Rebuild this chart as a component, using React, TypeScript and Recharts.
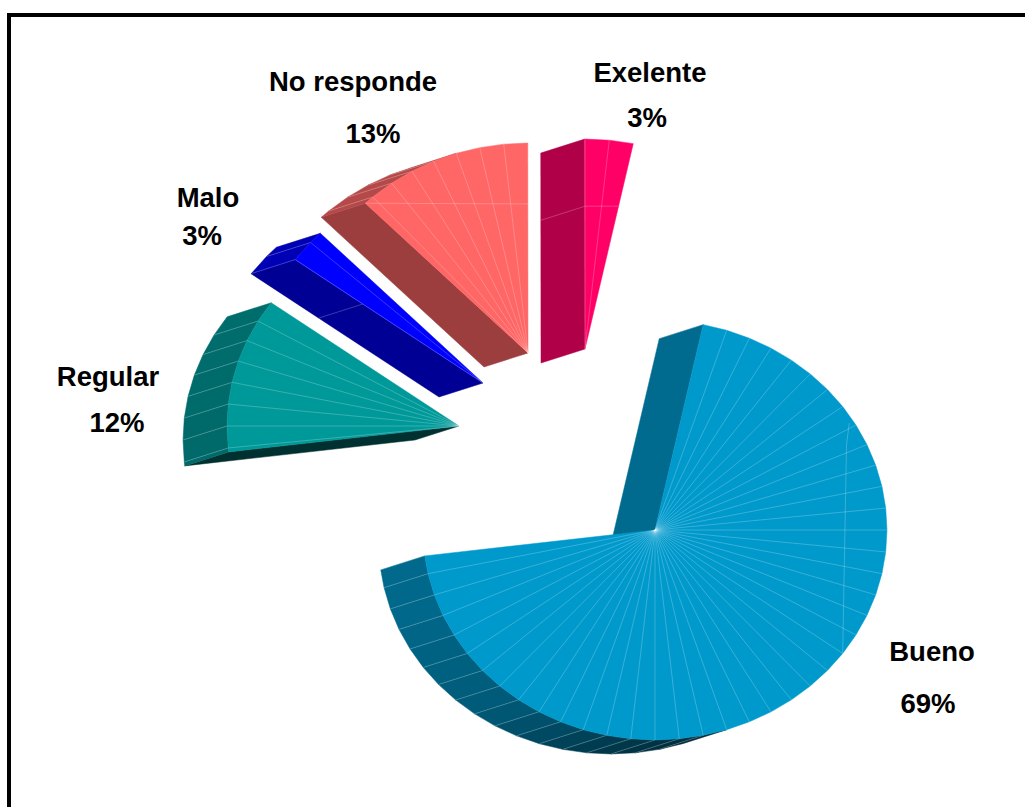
import { PieChart, Pie } from "recharts";

const categories = ["Bueno", "Regular", "Malo", "No responde", "Exelente"];
// share of the circle each slice takes in the drawing
const shares = [69.7, 11.95, 2.65, 12.35, 3.35];
const faceColors = ["#0099cc", "#009999", "#0000ff", "#ff6666", "#ff0066"];

// where each exploded slice has its point
const centers = [
  { x: 655, y: 530 },
  { x: 459, y: 426 },
  { x: 483, y: 383 },
  { x: 528, y: 353 },
  { x: 585, y: 349 },
];

const labels = [
  { text: "Bueno", x: 932, y: 661 },
  { text: "69%", x: 928, y: 713 },
  { text: "Regular", x: 108, y: 386 },
  { text: "12%", x: 117, y: 432 },
  { text: "Malo", x: 208, y: 207 },
  { text: "3%", x: 202, y: 245 },
  { text: "No responde", x: 353, y: 91 },
  { text: "13%", x: 373, y: 143 },
  { text: "Exelente", x: 650, y: 82 },
  { text: "3%", x: 647, y: 127 },
];

// stray mesh seams of the original 3d render, as [angle clockwise from top, part of radius]
const faceSeams: Record<string, number[][]> = {
  Bueno: [[58.7, 0.98], [63.8, 0.92], [126, 1]],
  "No responde": [[315.5, 1], [360, 0.71]],
  Exelente: [[360, 0.68], [371.8, 0.695]],
};
const wallSeams: Record<string, number[]> = {
  Malo: [306, 0.64],
  Exelente: [360, 0.68],
};

const TILT = 0.905;
const DEPTH = { x: -44, y: 14 };
const FACET = 6;
const LINE = "rgba(255,255,255,0.32)";

const rows = categories.map((name, i) => ({ name, value: shares[i], fill: faceColors[i] }));

// wall brightness by the direction the wall faces, clockwise from the top
function wallShade(dir: number) {
  const stops = [
    [150, 0.22],
    [170, 0.3],
    [190, 0.4],
    [215, 0.58],
    [250, 0.68],
    [300, 0.71],
  ];
  const d = ((dir % 360) + 360) % 360;
  if (d <= stops[0][0]) return stops[0][1];
  for (let i = 1; i < stops.length; i++) {
    if (d <= stops[i][0]) {
      const [a, va] = stops[i - 1];
      const [b, vb] = stops[i];
      return va + ((vb - va) * (d - a)) / (b - a);
    }
  }
  return 0.71;
}

function darken(hex: string, k: number) {
  const n = parseInt(hex.slice(1), 16);
  const c = [(n >> 16) & 255, (n >> 8) & 255, n & 255].map((v) => Math.round(v * k));
  return `rgb(${c[0]},${c[1]},${c[2]})`;
}

function poly(pts: number[][]) {
  return pts.map((p, i) => `${i ? "L" : "M"}${p[0].toFixed(2)} ${p[1].toFixed(2)}`).join(" ") + " Z";
}

function Slab(props: any) {
  const { cx, cy, outerRadius, startAngle, endAngle, fill, name } = props;
  // recharts angles run counter clockwise from +x, the facets are counted clockwise from the top
  const from = 90 - startAngle;
  const to = 90 - endAngle;
  const cuts = [from];
  for (let a = Math.ceil(from / FACET + 0.01) * FACET; a < to - 0.01; a += FACET) cuts.push(a);
  cuts.push(to);

  const at = (deg: number, part = 1) => {
    const r = (deg * Math.PI) / 180;
    return [cx + part * outerRadius * Math.sin(r), cy - part * outerRadius * TILT * Math.cos(r)];
  };
  const shift = (p: number[]) => [p[0] + DEPTH.x, p[1] + DEPTH.y];
  const rim = cuts.map((a) => at(a));
  const c = [cx, cy];

  const walls: any[] = [];
  const shown: string[] = [];
  // a and b go clockwise round the slice, only walls turned to the extrusion side show
  const wall = (a: number[], b: number[], dir: number, key: string) => {
    const nx = b[1] - a[1];
    const ny = a[0] - b[0];
    if (nx * DEPTH.x + ny * DEPTH.y <= 0) return;
    const color = darken(fill, wallShade(dir));
    walls.push(
      <path key={key} d={poly([a, b, shift(b), shift(a)])} fill={color} stroke={color} strokeWidth={0.5} />
    );
    shown.push(key);
  };
  wall(c, rim[0], from - 90, "first");
  wall(rim[rim.length - 1], c, to + 90, "last");
  for (let i = 0; i < rim.length - 1; i++) {
    wall(rim[i], rim[i + 1], (cuts[i] + cuts[i + 1]) / 2, `w${i}`);
  }

  const wallSeam = wallSeams[name] ? at(wallSeams[name][0], wallSeams[name][1]) : null;
  const faceSeam = faceSeams[name] ? faceSeams[name].map((s) => at(s[0], s[1])) : null;

  return (
    <g>
      {walls}
      {rim.slice(1, -1).map((p, i) =>
        shown.includes(`w${i}`) && shown.includes(`w${i + 1}`) ? (
          <line key={i} x1={p[0]} y1={p[1]} x2={p[0] + DEPTH.x} y2={p[1] + DEPTH.y} stroke={LINE} strokeWidth={0.7} />
        ) : null
      )}
      {wallSeam && (
        <line x1={wallSeam[0]} y1={wallSeam[1]} x2={wallSeam[0] + DEPTH.x} y2={wallSeam[1] + DEPTH.y} stroke={LINE} strokeWidth={0.7} />
      )}
      <path d={poly([c, ...rim])} fill={fill} stroke={fill} strokeWidth={0.5} />
      {rim.slice(1, -1).map((p, i) => (
        <line key={i} x1={cx} y1={cy} x2={p[0]} y2={p[1]} stroke={LINE} strokeWidth={0.7} />
      ))}
      {faceSeam && (
        <polyline points={faceSeam.map((p) => p.join(",")).join(" ")} fill="none" stroke={LINE} strokeWidth={0.7} />
      )}
    </g>
  );
}

export default function App() {
  return (
    <div style={{ position: "absolute", left: 0, top: 0, width: 1025, height: 807, overflow: "hidden", background: "#fff" }}>
      <div
        style={{
          position: "absolute",
          left: 7,
          top: 13,
          width: 1100,
          height: 900,
          border: "4px solid #000",
          boxSizing: "border-box",
        }}
      />
      <PieChart width={1025} height={807} margin={{ top: 0, right: 0, bottom: 0, left: 0 }}>
        {centers.map((center, i) => (
          <Pie
            key={categories[i]}
            data={rows}
            dataKey="value"
            nameKey="name"
            cx={center.x}
            cy={center.y}
            innerRadius={0}
            outerRadius={232}
            startAngle={78}
            endAngle={-282}
            paddingAngle={0}
            stroke="none"
            isAnimationActive={false}
            shape={(p: any) => (p.name === categories[i] ? <Slab {...p} /> : <g />)}
          />
        ))}
        {labels.map((l) => (
          <text
            key={l.text + l.x}
            x={l.x}
            y={l.y}
            textAnchor="middle"
            fontFamily="'Liberation Sans', Arial, sans-serif"
            fontWeight="bold"
            fontSize={27.5}
            fill="#000"
          >
            {l.text}
          </text>
        ))}
      </PieChart>
    </div>
  );
}
